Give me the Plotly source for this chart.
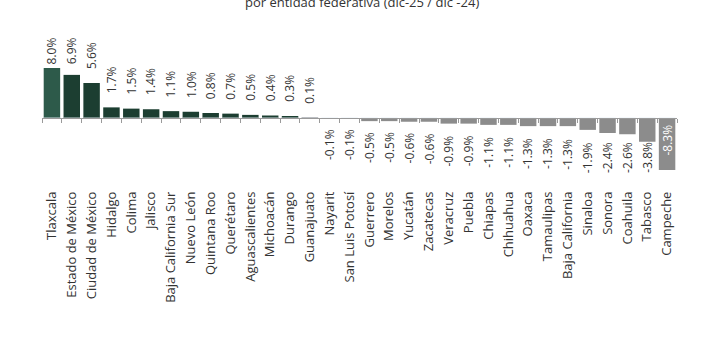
import plotly.graph_objects as go

states = ["Tlaxcala", "Estado de México", "Ciudad de México", "Hidalgo", "Colima", "Jalisco",
          "Baja California Sur", "Nuevo León", "Quintana Roo", "Querétaro", "Aguascalientes",
          "Michoacán", "Durango", "Guanajuato", "Nayarit", "San Luis Potosí", "Guerrero",
          "Morelos", "Yucatán", "Zacatecas", "Veracruz", "Puebla", "Chiapas", "Chihuahua",
          "Oaxaca", "Tamaulipas", "Baja California", "Sinaloa", "Sonora", "Coahuila",
          "Tabasco", "Campeche"]
values = [8.0, 6.9, 5.6, 1.7, 1.5, 1.4, 1.1, 1.0, 0.8, 0.7, 0.5, 0.4, 0.3, 0.1,
          -0.1, -0.1, -0.5, -0.5, -0.6, -0.6, -0.9, -0.9, -1.1, -1.1, -1.3, -1.3, -1.3,
          -1.9, -2.4, -2.6, -3.8, -8.3]
labels = [f"{v:.1f}%" for v in values]

def color_for(i, v):
    if i == 0:
        return "#2d5a4a"
    if states[i] == "Guanajuato":
        return "#9a9a9a"
    if states[i] == "Nayarit":
        return "#3b4c45"
    return "#1c3e31" if v > 0 else "#8c8c8c"

colors = [color_for(i, v) for i, v in enumerate(values)]

fig = go.Figure()
fig.add_trace(go.Bar(
    x=states, y=values, marker=dict(color=colors, line=dict(width=0)),
    cliponaxis=False, showlegend=False,
))
# invisible copy for the boundary ticks along the zero line
fig.add_trace(go.Bar(x=states, y=[0] * len(states), xaxis="x2", marker=dict(color="rgba(0,0,0,0)"),
                     showlegend=False, hoverinfo="skip"))

ymin, ymax = -9.12, 9.28
zero_frac = (0 - ymin) / (ymax - ymin)
top_m, plot_h = 60, 115
ppu = plot_h / (ymax - ymin)
zero_px = top_m + ymax * ppu

fig.update_layout(
    width=720, height=340,
    margin=dict(l=42, r=43, t=top_m, b=340 - top_m - plot_h),
    plot_bgcolor="white", paper_bgcolor="white",
    bargap=0.17,
    font=dict(family="Open Sans", color="#333333"),
    xaxis=dict(type="category", categoryarray=states, tickangle=-90, showline=False,
               ticks="", tickfont=dict(family="Open Sans", size=13, color="#333333"),
               ticklabelstandoff=13, showgrid=False, range=[-0.5, 31.5]),
    xaxis2=dict(type="category", categoryarray=states, overlaying="x", anchor="free",
                position=zero_frac, showline=True, linecolor="#9a9a9a", linewidth=1,
                ticks="outside", tickson="boundaries", ticklen=4, tickcolor="#9a9a9a",
                showticklabels=False, showgrid=False, range=[-0.5, 31.5]),
    yaxis=dict(range=[ymin, ymax], visible=False, showgrid=False, zeroline=False),
)

for s, v, t in zip(states, values, labels):
    if v < -6:
        fig.add_annotation(x=s, y=0, text=t, textangle=-90, showarrow=False,
                           xanchor="center", yanchor="top", yshift=-5,
                           font=dict(family="Open Sans", size=12, color="white"))
    elif v > 0:
        bar_top = zero_px - v * ppu
        bottom = max(64, bar_top - 14)
        fig.add_annotation(x=s, y=v, text=t, textangle=-90, showarrow=False,
                           xanchor="center", yanchor="bottom", yshift=bar_top - bottom - 2,
                           font=dict(family="Open Sans", size=12, color="#333333"))
    else:
        bar_bot = zero_px - v * ppu
        top = min(zero_px + 10 + 8 * abs(v), 142)
        fig.add_annotation(x=s, y=v, text=t, textangle=-90, showarrow=False,
                           xanchor="center", yanchor="top", yshift=-(top - bar_bot - 2),
                           font=dict(family="Open Sans", size=12, color="#333333"))

fig.add_annotation(text="por entidad federativa (dic-25 / dic -24)", xref="paper", yref="paper",
                   x=(362 - 42) / 635, y=1 + (60 - 13) / 115, xanchor="center", yanchor="bottom",
                   showarrow=False, font=dict(family="Open Sans", size=13, color="#333333"))

fig.write_html("out.html")
